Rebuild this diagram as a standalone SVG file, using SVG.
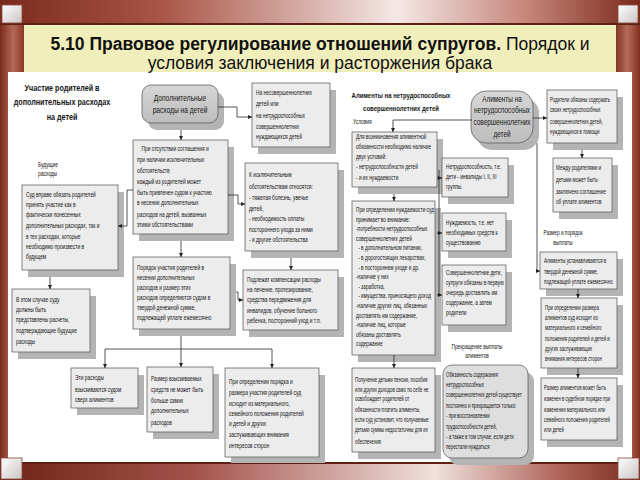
<svg xmlns="http://www.w3.org/2000/svg" width="640" height="480" viewBox="0 0 640 480">
<defs>
<linearGradient id="gTop" x1="0" y1="0" x2="1" y2="0">
<stop offset="0" stop-color="#7a2a1c"/><stop offset="0.25" stop-color="#a85446"/><stop offset="0.62" stop-color="#f4e8e5"/><stop offset="0.82" stop-color="#c7877c"/><stop offset="1" stop-color="#7a2a1c"/>
</linearGradient>
<linearGradient id="gBot" x1="0" y1="0" x2="1" y2="0">
<stop offset="0" stop-color="#6e2317"/><stop offset="0.3" stop-color="#a3524a"/><stop offset="0.68" stop-color="#f0e0dc"/><stop offset="0.88" stop-color="#ad6257"/><stop offset="1" stop-color="#782a1d"/>
</linearGradient>
<linearGradient id="gSide" x1="0" y1="0" x2="1" y2="0">
<stop offset="0" stop-color="#7a2c1e"/><stop offset="0.5" stop-color="#b46a58"/><stop offset="1" stop-color="#82301f"/>
</linearGradient>
<linearGradient id="gCorner" x1="0" y1="0" x2="1" y2="1">
<stop offset="0" stop-color="#ffffff"/><stop offset="1" stop-color="#c9c4c2"/>
</linearGradient>
<linearGradient id="gRound" x1="0" y1="0" x2="0" y2="1">
<stop offset="0" stop-color="#d6d6d6"/><stop offset="1" stop-color="#bdbdbd"/>
</linearGradient>
<marker id="ar" viewBox="0 0 6 6" refX="6" refY="3" markerUnits="userSpaceOnUse" markerWidth="4" markerHeight="4" orient="auto">
<path d="M0,0L6,3L0,6z" fill="#222"/>
</marker>
<style>
.box{fill:#ececec;stroke:#505050;stroke-width:0.7}
.rbox{fill:url(#gRound);stroke:#505050;stroke-width:0.7}
.sh{fill:#b4b4b4}
.t{font-family:"Liberation Sans",Arial,sans-serif;font-size:6.4px;fill:#151515}
.tb{font-family:"Liberation Sans",Arial,sans-serif;font-size:8.5px;fill:#151515}
.h{font-family:"Liberation Sans",Arial,sans-serif;font-weight:bold;fill:#151515}
.m{text-anchor:middle}
.c{fill:none;stroke:#2a2a2a;stroke-width:0.8}
.ca{fill:none;stroke:#2a2a2a;stroke-width:0.8;marker-end:url(#ar)}
</style>
</defs>

<!-- frame -->
<rect x="0" y="0" width="640" height="480" fill="#7a2c1e"/>
<rect x="0" y="0" width="26" height="480" fill="url(#gSide)"/>
<rect x="614" y="0" width="26" height="480" fill="url(#gSide)"/>
<rect x="0" y="0" width="640" height="24" fill="url(#gTop)"/>
<rect x="0" y="23" width="640" height="2" fill="#5e1f14"/>
<rect x="2" y="5" width="20" height="18" fill="url(#gCorner)" stroke="#8a4a3c" stroke-width="0.8"/>
<rect x="618" y="5" width="20" height="18" fill="url(#gCorner)" stroke="#8a4a3c" stroke-width="0.8"/>
<rect x="24" y="25" width="592" height="48" fill="#f0eebb"/>
<rect x="8" y="72" width="624" height="391" fill="#ffffff"/>
<rect x="0" y="464" width="640" height="16" fill="url(#gBot)"/>
<rect x="0" y="462" width="640" height="2" fill="#5e1f14"/>
<rect x="1" y="458" width="21" height="21" fill="url(#gCorner)" stroke="#8a4a3c" stroke-width="0.8"/>
<rect x="618" y="458" width="21" height="21" fill="url(#gCorner)" stroke="#8a4a3c" stroke-width="0.8"/>

<!-- title -->
<text x="320" y="50" text-anchor="middle" font-family="'Liberation Sans',Arial,sans-serif" font-size="17.5" fill="#111"><tspan font-weight="bold">5.10 Правовое регулирование отношений супругов.</tspan> Порядок и</text>
<text x="320" y="69" text-anchor="middle" font-family="'Liberation Sans',Arial,sans-serif" font-size="17.5" fill="#111">условия заключения и расторжения брака</text>

<!-- nodes -->
<g id="n-head-extra">
<text class="h m" font-size="9" transform="translate(62 0) scale(0.8 1)"><tspan x="0" y="91">Участие родителей в</tspan><tspan x="0" y="105">дополнительных расходах</tspan><tspan x="0" y="120">на детей</tspan></text>
</g>
<g id="n-extra">
<rect class="sh" x="148" y="92" width="76" height="38" rx="9"/>
<rect class="rbox" x="142" y="85" width="76" height="38" rx="9"/>
<text class="tb m" transform="translate(180 0) scale(0.78 1)"><tspan x="0" y="101">Дополнительные</tspan><tspan x="0" y="113">расходы на детей</tspan></text>
</g>
<g id="n-for-whom">
<rect class="sh" x="258" y="90" width="78" height="64"/>
<rect class="box" x="252" y="83" width="78" height="64"/>
<text class="t" transform="translate(256 0) scale(0.76 1)"><tspan x="0" y="95">На несовершеннолетних</tspan><tspan x="0" y="106">детей или</tspan><tspan x="0" y="118">на нетрудоспособных</tspan><tspan x="0" y="129">совершеннолетних</tspan><tspan x="0" y="139">нуждающихся детей</tspan></text>
</g>
<g id="n-no-agreement">
<rect class="sh" x="139" y="147" width="95" height="94"/>
<rect class="box" x="133" y="140" width="95" height="94"/>
<text class="t" transform="translate(137 0) scale(0.76 1)"><tspan x="6" y="151">При отсутствии соглашения и</tspan><tspan x="0" y="162">при наличии исключительных</tspan><tspan x="0" y="173">обстоятельств</tspan><tspan x="0" y="184">каждый из родителей может</tspan><tspan x="0" y="195">быть привлечен судом к участию</tspan><tspan x="0" y="205">в несении дополнительных</tspan><tspan x="0" y="217">расходов на детей, вызванных</tspan><tspan x="0" y="227">этими обстоятельствами</tspan></text>
</g>
<g id="n-exceptional">
<rect class="sh" x="251" y="170" width="93" height="88"/>
<rect class="box" x="245" y="163" width="93" height="88"/>
<text class="t" transform="translate(249 0) scale(0.76 1)"><tspan x="0" y="177">К исключительным</tspan><tspan x="0" y="189">обстоятельствам относятся:</tspan><tspan x="0" y="200">- тяжелая болезнь, увечье</tspan><tspan x="0" y="211">детей,</tspan><tspan x="0" y="221">- необходимость оплаты</tspan><tspan x="0" y="232">постороннего ухода за ними</tspan><tspan x="0" y="242">- и другие обстоятельства</tspan></text>
</g>
<g id="n-future-label">
<text class="t" transform="translate(38 0) scale(0.76 1)"><tspan x="0" y="167">Будущие</tspan><tspan x="0" y="176">расходы</tspan></text>
</g>
<g id="n-court-may">
<rect class="sh" x="28" y="192" width="96" height="85"/>
<rect class="box" x="22" y="185" width="96" height="85"/>
<text class="t" transform="translate(26 0) scale(0.76 1)"><tspan x="0" y="197">Суд вправе обязать родителей</tspan><tspan x="0" y="207">принять участие как в</tspan><tspan x="0" y="217">фактически понесенных</tspan><tspan x="0" y="228">дополнительных расходах, так и</tspan><tspan x="0" y="239">в тех расходах, которые</tspan><tspan x="0" y="249">необходимо произвести в</tspan><tspan x="0" y="259">будущем</tspan></text>
</g>
<g id="n-order">
<rect class="sh" x="139" y="264" width="97" height="72"/>
<rect class="box" x="133" y="257" width="97" height="72"/>
<text class="t" transform="translate(137 0) scale(0.76 1)"><tspan x="0" y="270">Порядок участия родителей в</tspan><tspan x="0" y="280">несении дополнительных</tspan><tspan x="0" y="290">расходов и размер этих</tspan><tspan x="0" y="300">расходов определяются судом в</tspan><tspan x="0" y="310">твердой денежной сумме,</tspan><tspan x="0" y="320">подлежащей уплате ежемесячно</tspan></text>
</g>
<g id="n-compensation">
<rect class="sh" x="249" y="277" width="95" height="60"/>
<rect class="box" x="243" y="270" width="95" height="60"/>
<text class="t" transform="translate(247 0) scale(0.76 1)"><tspan x="0" y="282">Подлежат компенсации расходы</tspan><tspan x="0" y="292">на лечение, протезирование,</tspan><tspan x="0" y="302">средства передвижения для</tspan><tspan x="0" y="313">инвалидов, обучение больного</tspan><tspan x="0" y="323">ребенка, посторонний уход и т.п.</tspan></text>
</g>
<g id="n-calculations">
<rect class="sh" x="18" y="296" width="78" height="63"/>
<rect class="box" x="12" y="289" width="78" height="63"/>
<text class="t" transform="translate(16 0) scale(0.76 1)"><tspan x="0" y="302">В этом случае суду</tspan><tspan x="0" y="312">должны быть</tspan><tspan x="0" y="322">представлены расчеты,</tspan><tspan x="0" y="333">подтверждающие будущие</tspan><tspan x="0" y="344">расходы</tspan></text>
</g>
<g id="n-over-alimony">
<rect class="sh" x="77" y="375" width="67" height="40"/>
<rect class="box" x="71" y="368" width="67" height="40"/>
<text class="t" transform="translate(75 0) scale(0.76 1)"><tspan x="0" y="380">Эти расходы</tspan><tspan x="0" y="392">взыскиваются судом</tspan><tspan x="0" y="402">сверх алиментов</tspan></text>
</g>
<g id="n-size-limit">
<rect class="sh" x="153" y="374" width="66" height="65"/>
<rect class="box" x="147" y="367" width="66" height="65"/>
<text class="t" transform="translate(151 0) scale(0.76 1)"><tspan x="0" y="381">Размер взыскиваемых</tspan><tspan x="0" y="392">средств не может быть</tspan><tspan x="0" y="403">больше самих</tspan><tspan x="0" y="413">дополнительных</tspan><tspan x="0" y="425">расходов</tspan></text>
</g>
<g id="n-court-considers">
<rect class="sh" x="231" y="375" width="94" height="88"/>
<rect class="box" x="225" y="368" width="94" height="89"/>
<text class="t" transform="translate(229 0) scale(0.76 1)"><tspan x="0" y="384">При определении порядка и</tspan><tspan x="0" y="395">размера участия родителей суд</tspan><tspan x="0" y="406">исходит из материального,</tspan><tspan x="0" y="416">семейного положения родителей</tspan><tspan x="0" y="426">и детей и других</tspan><tspan x="0" y="437">заслуживающих внимания</tspan><tspan x="0" y="448">интересов сторон</tspan></text>
</g>
<g id="n-head-adult">
<text class="h m" font-size="7.5" transform="translate(401 0) scale(0.8 1)"><tspan x="0" y="98">Алименты на нетрудоспособных</tspan><tspan x="0" y="111">совершеннолетних детей</tspan></text>
<text class="t" transform="translate(353 0) scale(0.76 1)"><tspan x="0" y="124">Условия</tspan></text>
</g>
<g id="n-conditions">
<rect class="sh" x="358" y="139" width="85" height="55"/>
<rect class="box" x="352" y="132" width="85" height="55"/>
<text class="t" transform="translate(356 0) scale(0.74 1)"><tspan x="0" y="139">Для возникновения алиментной</tspan><tspan x="0" y="149">обязанности необходимо наличие</tspan><tspan x="0" y="159">двух условий:</tspan><tspan x="0" y="169">- нетрудоспособности детей</tspan><tspan x="0" y="180">- и их нуждаемости</tspan></text>
</g>
<g id="n-neediness">
<rect class="sh" x="358" y="208" width="83" height="154"/>
<rect class="box" x="352" y="201" width="83" height="154"/>
<text class="t" transform="translate(356 0) scale(0.74 1)"><tspan x="0" y="212">При определении нуждаемости суд</tspan><tspan x="0" y="221.6">принимает во внимание:</tspan><tspan x="0" y="231.2">-потребности нетрудоспособных</tspan><tspan x="0" y="240.8">совершеннолетних детей</tspan><tspan x="3" y="250.4">- в дополнительном питании,</tspan><tspan x="3" y="260">- в дорогостоящих лекарствах,</tspan><tspan x="3" y="269.6">- в постороннем уходе и др.</tspan><tspan x="0" y="279.2">-наличие у них</tspan><tspan x="3" y="288.8">- заработка,</tspan><tspan x="3" y="298.4">- имущества, приносящего доход</tspan><tspan x="0" y="308">-наличие других лиц, обязанных</tspan><tspan x="0" y="317.6">доставлять им содержание,</tspan><tspan x="0" y="327.2">-наличие лиц, которые</tspan><tspan x="0" y="336.8">обязаны доставлять</tspan><tspan x="0" y="346.4">содержание</tspan></text>
</g>
<g id="n-disability">
<rect class="sh" x="448" y="165" width="66" height="39"/>
<rect class="box" x="442" y="158" width="66" height="39"/>
<text class="t" transform="translate(446 0) scale(0.74 1)"><tspan x="0" y="169">Нетрудоспособность, т.е.</tspan><tspan x="0" y="179">дети - инвалиды I, II, III</tspan><tspan x="0" y="189">группы.</tspan></text>
</g>
<g id="n-need">
<rect class="sh" x="448" y="220" width="64" height="38"/>
<rect class="box" x="442" y="213" width="64" height="38"/>
<text class="t" transform="translate(446 0) scale(0.74 1)"><tspan x="0" y="225">Нуждаемость, т.е. нет</tspan><tspan x="0" y="235">необходимых средств к</tspan><tspan x="0" y="245">существованию</tspan></text>
</g>
<g id="n-first-order">
<rect class="sh" x="448" y="272" width="64" height="60"/>
<rect class="box" x="442" y="265" width="64" height="60"/>
<text class="t" transform="translate(446 0) scale(0.74 1)"><tspan x="0" y="275">Совершеннолетние дети,</tspan><tspan x="0" y="285">супруги обязаны в первую</tspan><tspan x="0" y="295">очередь доставлять им</tspan><tspan x="0" y="305">содержание, а затем</tspan><tspan x="0" y="315">родители</tspan></text>
</g>
<g id="n-income">
<rect class="sh" x="358" y="375" width="83" height="84"/>
<rect class="box" x="352" y="368" width="83" height="84"/>
<text class="t" transform="translate(355 0) scale(0.68 1)"><tspan x="0" y="382">Получение детьми пенсии, пособия</tspan><tspan x="0" y="392">или других доходов само по себе не</tspan><tspan x="0" y="401">освобождает родителей от</tspan><tspan x="0" y="412">обязанности платить алименты,</tspan><tspan x="0" y="422">если суд установит, что получаемые</tspan><tspan x="0" y="432">детьми суммы недостаточны для их</tspan><tspan x="0" y="444">обеспечения</tspan></text>
</g>
<g id="n-alimony-adult">
<rect class="sh" x="477" y="98" width="62" height="52" rx="15"/>
<rect class="rbox" x="471" y="91" width="62" height="52" rx="15"/>
<text class="tb m" transform="translate(502 0) scale(0.76 1)"><tspan x="0" y="102">Алименты на</tspan><tspan x="0" y="113">нетрудоспособных</tspan><tspan x="0" y="125">совершеннолетних</tspan><tspan x="0" y="137">детей</tspan></text>
</g>
<g id="n-parents-obliged">
<rect class="sh" x="553" y="97" width="70" height="53"/>
<rect class="box" x="547" y="90" width="70" height="53"/>
<text class="t" transform="translate(550 0) scale(0.68 1)"><tspan x="0" y="102">Родители обязаны содержать</tspan><tspan x="0" y="112">своих нетрудоспособных</tspan><tspan x="0" y="124">совершеннолетних детей,</tspan><tspan x="0" y="134">нуждающихся в помощи</tspan></text>
</g>
<g id="n-agreement">
<rect class="sh" x="559" y="165" width="59" height="54"/>
<rect class="box" x="553" y="158" width="59" height="54"/>
<text class="t" transform="translate(556 0) scale(0.72 1)"><tspan x="0" y="170">Между родителями и</tspan><tspan x="0" y="182">детьми может быть</tspan><tspan x="0" y="194">заключено соглашение</tspan><tspan x="0" y="204">об уплате алиментов</tspan></text>
</g>
<g id="n-size-label">
<text class="t m" transform="translate(563 0) scale(0.74 1)"><tspan x="0" y="235">Размер и порядок</tspan><tspan x="0" y="245">выплаты</tspan></text>
</g>
<g id="n-fixed-sum">
<rect class="sh" x="546" y="259" width="77" height="37"/>
<rect class="box" x="540" y="252" width="77" height="37"/>
<text class="t" transform="translate(544 0) scale(0.7 1)"><tspan x="0" y="263">Алименты устанавливаются в</tspan><tspan x="0" y="274">твердой денежной сумме,</tspan><tspan x="0" y="284">подлежащей уплате ежемесячно</tspan></text>
</g>
<g id="n-size-court">
<rect class="sh" x="547" y="305" width="76" height="70"/>
<rect class="box" x="541" y="298" width="76" height="70"/>
<text class="t" transform="translate(545 0) scale(0.68 1)"><tspan x="0" y="310">При определении размера</tspan><tspan x="0" y="320">алиментов суд исходит из</tspan><tspan x="0" y="330">материального и семейного</tspan><tspan x="0" y="341">положения родителей и детей и</tspan><tspan x="0" y="351">других заслуживающих</tspan><tspan x="0" y="361">внимания интересов сторон</tspan></text>
</g>
<g id="n-size-change">
<rect class="sh" x="547" y="385" width="76" height="62"/>
<rect class="box" x="541" y="378" width="76" height="62"/>
<text class="t" transform="translate(544 0) scale(0.67 1)"><tspan x="0" y="390">Размер алиментов может быть</tspan><tspan x="0" y="401">изменен в судебном порядке при</tspan><tspan x="0" y="412">изменении материального или</tspan><tspan x="0" y="422">семейного положения родителей</tspan><tspan x="0" y="432">или детей</tspan></text>
</g>
<g id="n-stop-label">
<text class="t m" transform="translate(477 0) scale(0.74 1)"><tspan x="0" y="349">Прекращение выплаты</tspan><tspan x="0" y="358">алиментов</tspan></text>
</g>
<g id="n-stop">
<rect class="sh" x="449" y="372" width="85" height="93" rx="9"/>
<rect x="443" y="365" width="85" height="93" rx="9" fill="#dedede" stroke="#505050" stroke-width="0.7"/>
<text class="t" transform="translate(446 0) scale(0.68 1)"><tspan x="0" y="377">Обязанность содержания</tspan><tspan x="0" y="387">нетрудоспособных</tspan><tspan x="0" y="397">совершеннолетних детей существует</tspan><tspan x="0" y="408">постоянно и прекращается только:</tspan><tspan x="0" y="418">- при восстановлении</tspan><tspan x="0" y="429">трудоспособности детей,</tspan><tspan x="0" y="439">- а также в том случае, если дети</tspan><tspan x="0" y="449">перестали нуждаться</tspan></text>
</g>

<!-- connectors -->
<g id="connectors">
<path class="ca" d="M218,107 H237 V117 H252"/>
<path class="ca" d="M181,130 V140"/>
<path class="ca" d="M228,195 H238 V204 H245"/>
<path class="ca" d="M133,190 H127 V226 H118"/>
<path class="ca" d="M181,241 V257"/>
<path class="ca" d="M291,258 V270"/>
<path class="ca" d="M236,292 H238 V300 H243"/>
<path class="ca" d="M50,277 V289"/>
<path class="ca" d="M181,336 V367"/>
<path class="c" d="M105,349 H272"/>
<path class="ca" d="M105,349 V368"/>
<path class="ca" d="M272,349 V368"/>
<path class="ca" d="M472,120 H393 V132"/>
<path class="ca" d="M394,194 V201"/>
<path class="c" d="M439,170 V295"/>
<path class="ca" d="M437,178 H442"/>
<path class="ca" d="M437,233 H442"/>
<path class="ca" d="M437,295 H442"/>
<path class="ca" d="M533,118 H547"/>
<path class="ca" d="M582,150 V158"/>
<path class="ca" d="M537,143 V271 H540"/>
<path class="ca" d="M578,289 V298"/>
<path class="ca" d="M578,368 V378"/>
<path class="ca" d="M394,355 V368"/>
</g>
</svg>
